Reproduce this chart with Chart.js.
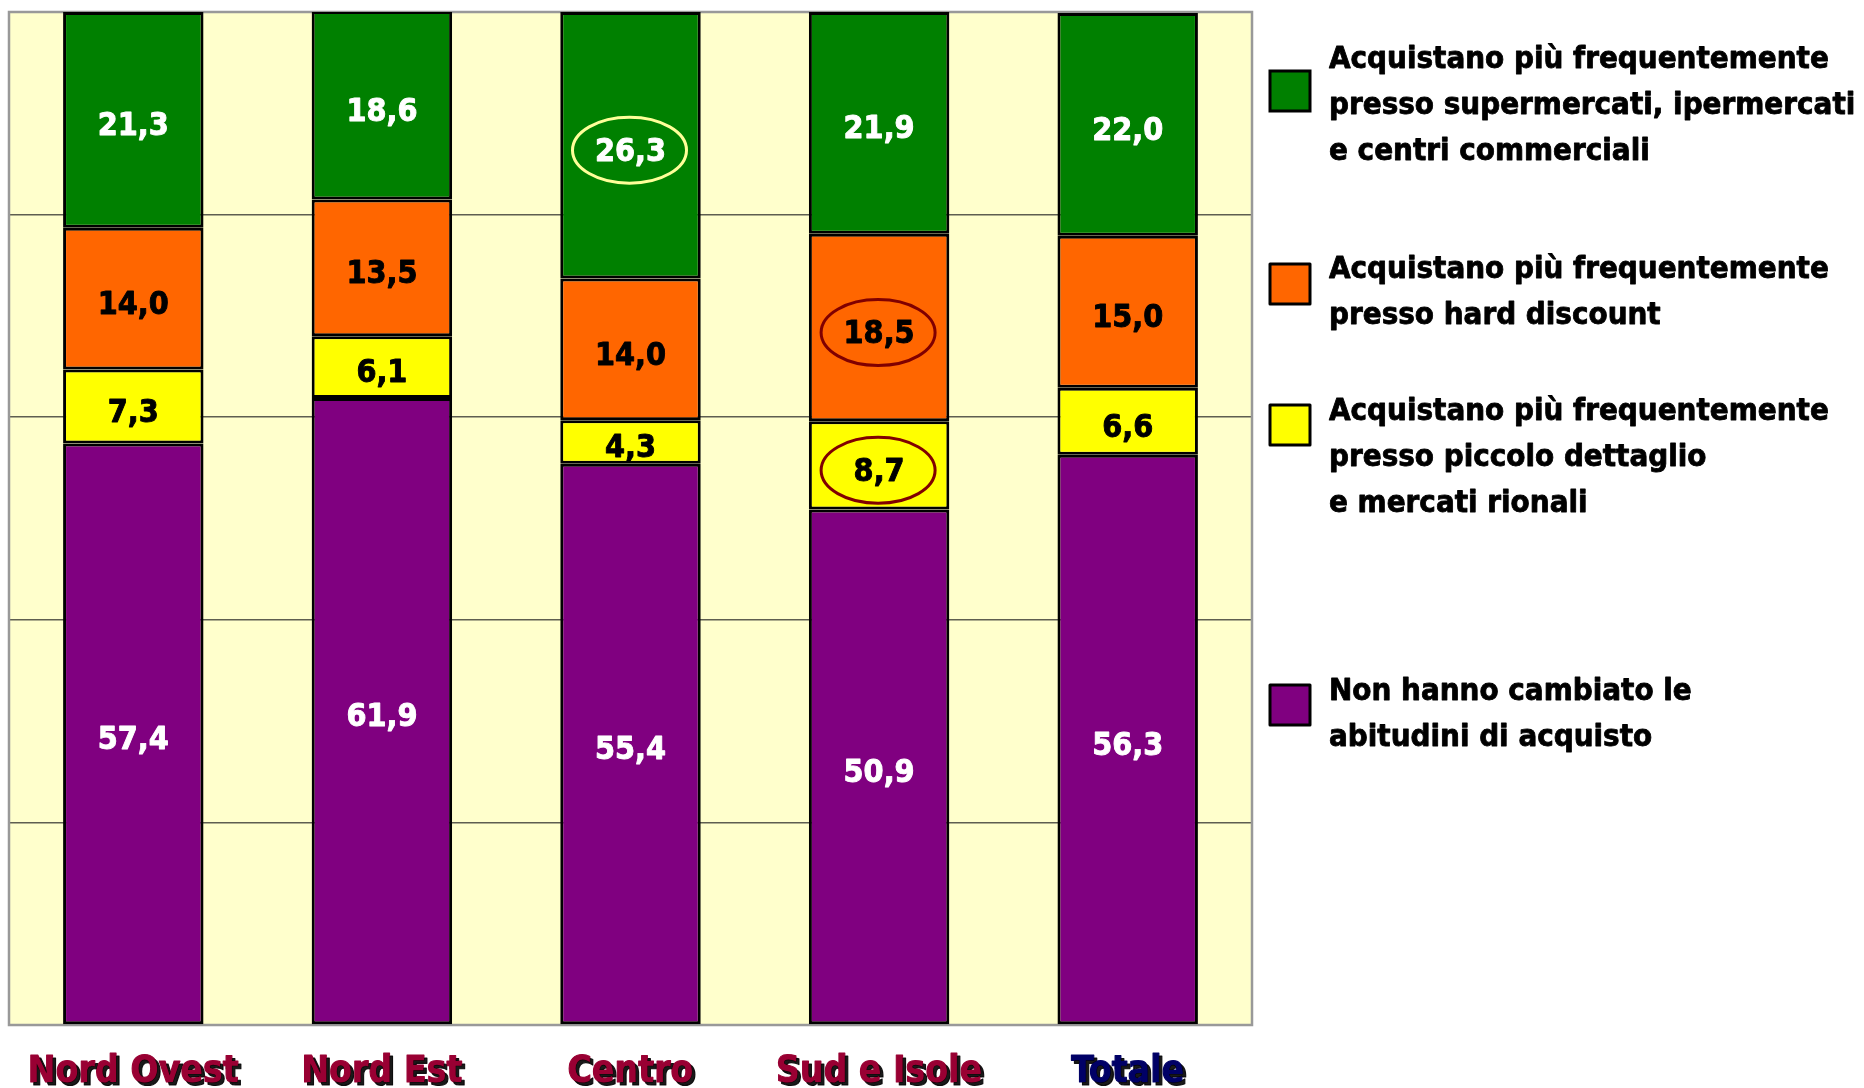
<!DOCTYPE html>
<html>
<head>
<meta charset="utf-8">
<script src="https://cdn.jsdelivr.net/npm/chart.js@4.4.0/dist/chart.umd.min.js"></script>
<style>
  html, body { margin: 0; padding: 0; background: #fff; }
  #wrap { width: 1864px; height: 1088px; }
</style>
</head>
<body>
<div id="wrap"><canvas id="grafico"></canvas></div>
<script>
// categorie e valori (%)
const aree = ['Nord Ovest', 'Nord Est', 'Centro', 'Sud e Isole', 'Totale'];
const nonCambiato = [57.4, 61.9, 55.4, 50.9, 56.3];
const piccoloDettaglio = [7.3, 6.1, 4.3, 8.7, 6.6];
const hardDiscount = [14.0, 13.5, 14.0, 18.5, 15.0];
const supermercati = [21.3, 18.6, 26.3, 21.9, 22.0];
const yTicks = [0, 20, 40, 60, 80, 100];

const legendaSupermercati = ['Acquistano più frequentemente', 'presso supermercati, ipermercati', 'e centri commerciali'];
const legendaDiscount = ['Acquistano più frequentemente', 'presso hard discount'];
const legendaDettaglio = ['Acquistano più frequentemente', 'presso piccolo dettaglio', 'e mercati rionali'];
const legendaNonCambiato = ['Non hanno cambiato le', 'abitudini di acquisto'];

// valori cerchiati: [serie, categoria]
const cerchiati = [[3, 2], [2, 3], [1, 3]];

const FONT = "'DejaVu Sans Condensed', 'DejaVu Sans', sans-serif";

function testoPieno(ctx, s, x, y, spessore) {
    ctx.lineWidth = spessore;
    ctx.strokeStyle = ctx.fillStyle;
    ctx.lineJoin = 'round';
    ctx.strokeText(s, x, y);
    ctx.fillText(s, x, y);
}

const sfondoPlot = {
    id: 'sfondoPlot',
    beforeDraw(chart) {
        const a = chart.chartArea, ctx = chart.ctx;
        ctx.save();
        ctx.fillStyle = '#FFFFCC';
        ctx.fillRect(a.left, a.top, a.right - a.left, a.bottom - a.top);
        ctx.restore();
    },
    beforeDatasetsDraw(chart) {
        const a = chart.chartArea, ctx = chart.ctx;
        ctx.save();
        ctx.strokeStyle = '#999999';
        ctx.lineWidth = 2.5;
        ctx.strokeRect(a.left, a.top, a.right - a.left, a.bottom - a.top);
        ctx.restore();
    }
};

const etichette = {
    id: 'etichette',
    afterDatasetsDraw(chart) {
        const ctx = chart.ctx;
        ctx.save();
        ctx.font = 'bold 32px ' + FONT;
        ctx.textAlign = 'center';
        ctx.textBaseline = 'middle';
        chart.data.datasets.forEach((ds, di) => {
            const meta = chart.getDatasetMeta(di);
            meta.data.forEach((bar, i) => {
                const cy = (bar.y + bar.base) / 2 + 7;
                ctx.fillStyle = ds.textColor;
                testoPieno(ctx, ds.data[i].toFixed(1).replace('.', ','), bar.x, cy, 0.9);
            });
        });
        // ellissi
        cerchiati.forEach(([di, i]) => {
            const bar = chart.getDatasetMeta(di).data[i];
            const cy = (bar.y + bar.base) / 2 + 5;
            ctx.beginPath();
            ctx.ellipse(bar.x - 1, cy, 57, 33, 0, 0, Math.PI * 2);
            ctx.lineWidth = 3;
            ctx.strokeStyle = di === 3 ? '#FFFF99' : '#800000';
            ctx.stroke();
        });
        // etichette delle categorie
        const xs = chart.scales.x;
        ctx.font = 'bold 37px ' + FONT;
        aree.forEach((nome, i) => {
            const x = xs.getPixelForTick(i);
            ctx.shadowColor = 'rgba(0,0,0,0.9)';
            ctx.shadowOffsetX = 3;
            ctx.shadowOffsetY = 3;
            ctx.shadowBlur = 0;
            ctx.fillStyle = nome === 'Totale' ? '#000066' : '#990033';
            testoPieno(ctx, nome, x, 1072, 1.1);
        });
        ctx.restore();
    }
};

const legenda = {
    id: 'legenda',
    afterDraw(chart) {
        const ctx = chart.ctx;
        const quadY = [71, 264, 405, 685];
        const testoY = [60, 270, 412, 692];
        const ordine = [3, 2, 1, 0];
        ctx.save();
        ctx.font = 'bold 31px ' + FONT;
        ctx.textAlign = 'left';
        ctx.textBaseline = 'middle';
        ordine.forEach((di, k) => {
            const ds = chart.data.datasets[di];
            ctx.fillStyle = ds.backgroundColor;
            ctx.fillRect(1270, quadY[k], 40, 40);
            ctx.lineWidth = 3;
            ctx.strokeStyle = '#000';
            ctx.strokeRect(1270, quadY[k], 40, 40);
            ctx.fillStyle = '#000';
            ds.righe.forEach((riga, r) => {
                testoPieno(ctx, riga, 1329, testoY[k] + r * 46, 0.8);
            });
        });
        ctx.restore();
    }
};

new Chart(document.getElementById('grafico'), {
    type: 'bar',
    data: {
        labels: aree,
        datasets: [
            { label: legendaNonCambiato.join(' '), righe: legendaNonCambiato, data: nonCambiato, backgroundColor: '#800080', textColor: '#FFFFFF' },
            { label: legendaDettaglio.join(' '), righe: legendaDettaglio, data: piccoloDettaglio, backgroundColor: '#FFFF00', textColor: '#000000' },
            { label: legendaDiscount.join(' '), righe: legendaDiscount, data: hardDiscount, backgroundColor: '#FF6600', textColor: '#000000' },
            { label: legendaSupermercati.join(' '), righe: legendaSupermercati, data: supermercati, backgroundColor: '#008000', textColor: '#FFFFFF' }
        ].map(ds => Object.assign(ds, {
            borderColor: '#000000',
            borderWidth: 3,
            borderSkipped: false,
            categoryPercentage: 1.0,
            barPercentage: 0.565
        }))
    },
    options: {
        responsive: true,
        maintainAspectRatio: false,
        animation: false,
        devicePixelRatio: 1,
        layout: { padding: { left: 9, top: 12, right: 612, bottom: 63 } },
        plugins: {
            legend: { display: false },
            tooltip: { enabled: false }
        },
        scales: {
            x: {
                stacked: true,
                grid: { display: false, drawTicks: false },
                border: { display: false },
                ticks: { display: false }
            },
            y: {
                stacked: true,
                min: 0,
                max: 100,
                afterBuildTicks: (axis) => { axis.ticks = yTicks.map(v => ({ value: v })); },
                grid: { color: '#5E5E50', lineWidth: 1.5, drawTicks: false },
                border: { display: false },
                ticks: { display: false }
            }
        }
    },
    plugins: [sfondoPlot, etichette, legenda]
});
</script>
</body>
</html>
